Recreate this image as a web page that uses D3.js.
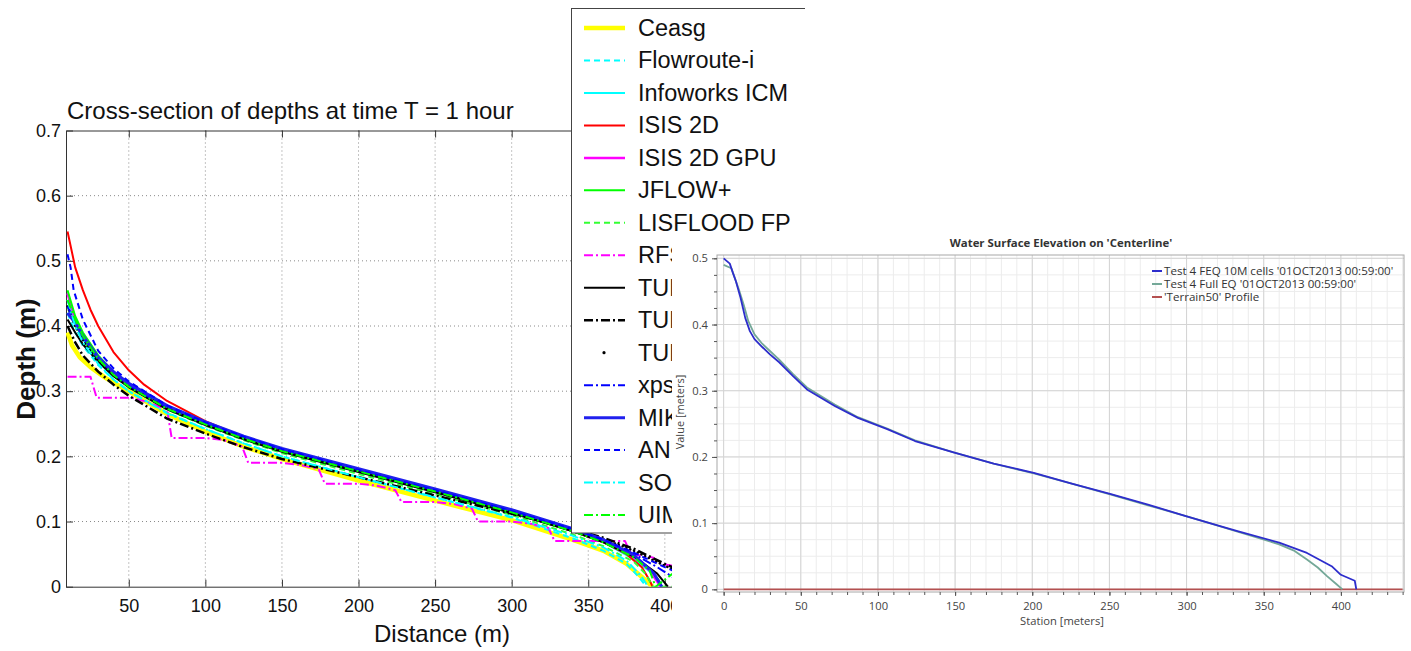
<!DOCTYPE html>
<html><head><meta charset="utf-8">
<script src="https://cdn.jsdelivr.net/npm/d3@7"></script>
<style>body{margin:0;background:#fff}svg{display:block}</style>
</head><body>
<svg id="c" width="1411" height="651"></svg>
<script>
// ---------- LEFT CHART DATA ----------
const leftTitle = "Cross-section of depths at time T = 1 hour";
const leftXTicks = [50,100,150,200,250,300,350,400,450];
const leftYTicks = [0,0.1,0.2,0.3,0.4,0.5,0.6,0.7];
const modelNames = ["Ceasg","Flowroute-i","Infoworks ICM","ISIS 2D","ISIS 2D GPU","JFLOW+","LISFLOOD FP","RFSM EDA","TUFLOW","TUFLOW FV","TUFLOW GPU","xpstorm","MIKE FLOOD","ANUGA","SOBEK","UIM"];

const ceasg = [[10,0.39],[13,0.37],[18,0.352],[25,0.337],[35,0.32],[50,0.3],[75,0.265],[100,0.238],[125,0.215],[150,0.196],[200,0.163],[250,0.132],[300,0.102],[340,0.072],[360,0.055],[375,0.035],[385,0.015],[392,0]];
const flowroute = [[10,0.42],[15,0.39],[20,0.37],[30,0.34],[40,0.318],[50,0.3],[75,0.267],[100,0.242],[125,0.22],[150,0.2],[200,0.168],[250,0.137],[300,0.106],[340,0.074],[360,0.055],[375,0.035],[383,0.015],[388,0]];
const infoworks = [[10,0.44],[15,0.405],[20,0.38],[30,0.348],[40,0.325],[50,0.307],[75,0.273],[100,0.249],[125,0.227],[150,0.208],[200,0.177],[250,0.146],[300,0.114],[340,0.085],[360,0.068],[380,0.042],[392,0.02],[398,0]];
const isis2d = [[10,0.545],[15,0.49],[20,0.455],[25,0.425],[30,0.4],[40,0.36],[50,0.332],[60,0.31],[75,0.285],[100,0.254],[125,0.23],[150,0.21],[200,0.178],[250,0.146],[300,0.114],[340,0.085],[360,0.068],[375,0.05],[385,0.03],[390,0.01],[392,0]];
const isis2dGpu = [[10,0.45],[15,0.41],[20,0.385],[30,0.352],[40,0.328],[50,0.31],[75,0.275],[100,0.25],[125,0.228],[150,0.209],[200,0.177],[250,0.146],[300,0.114],[340,0.086],[360,0.069],[380,0.046],[390,0.025],[395,0.008],[397,0]];
const jflow = [[10,0.455],[15,0.415],[20,0.39],[30,0.355],[40,0.33],[50,0.311],[75,0.276],[100,0.251],[125,0.229],[150,0.21],[200,0.178],[250,0.147],[300,0.115],[340,0.087],[360,0.07],[380,0.047],[390,0.028],[396,0.01],[398,0]];
const lisflood = [[10,0.43],[15,0.4],[20,0.378],[30,0.347],[40,0.324],[50,0.306],[75,0.272],[100,0.247],[125,0.225],[150,0.205],[200,0.173],[250,0.142],[300,0.11],[340,0.08],[360,0.062],[380,0.038],[388,0.018],[392,0],[410,0]];
const rfsm = [[10,0.322],[25,0.322],[29,0.29],[52,0.29],[60,0.285],[75,0.272],[78,0.228],[100,0.228],[112,0.225],[124,0.215],[128,0.19],[150,0.19],[162,0.187],[174,0.18],[178,0.158],[200,0.158],[212,0.155],[224,0.148],[228,0.13],[250,0.13],[262,0.127],[274,0.12],[278,0.1],[300,0.1],[312,0.097],[324,0.09],[328,0.07],[350,0.07],[374,0.07],[378,0.05],[392,0.045],[398,0.035],[410,0.03]];
const tuflow = [[10,0.41],[15,0.39],[20,0.372],[30,0.345],[40,0.323],[50,0.306],[75,0.272],[100,0.248],[125,0.226],[150,0.207],[200,0.176],[250,0.145],[300,0.113],[340,0.085],[360,0.068],[380,0.046],[395,0.02],[402,0]];
const tuflowFv = [[10,0.4],[15,0.375],[20,0.355],[30,0.33],[40,0.31],[50,0.293],[75,0.258],[100,0.235],[125,0.214],[150,0.196],[200,0.168],[250,0.14],[300,0.112],[340,0.088],[360,0.075],[380,0.058],[400,0.035],[410,0.025]];
const tuflowGpu = [[10,0.43],[15,0.4],[20,0.378],[30,0.347],[40,0.325],[50,0.308],[75,0.274],[100,0.25],[125,0.228],[150,0.209],[200,0.178],[250,0.147],[300,0.116],[340,0.088],[360,0.073],[380,0.055],[400,0.032],[410,0.022]];
const xpstorm = [[10,0.43],[15,0.405],[20,0.383],[30,0.35],[40,0.327],[50,0.309],[75,0.275],[100,0.251],[125,0.23],[150,0.211],[200,0.18],[250,0.149],[300,0.117],[340,0.088],[360,0.072],[380,0.05],[395,0.03],[405,0.015],[410,0.005]];
const mikeFlood = [[10,0.42],[15,0.405],[20,0.385],[30,0.352],[40,0.33],[50,0.312],[75,0.278],[100,0.253],[125,0.231],[150,0.212],[200,0.181],[250,0.15],[300,0.118],[340,0.089],[360,0.072],[380,0.048],[393,0.02],[398,0]];
const anuga = [[10,0.51],[12,0.49],[14,0.455],[16,0.44],[20,0.41],[30,0.362],[40,0.335],[50,0.315],[75,0.278],[100,0.252],[125,0.23],[150,0.211],[200,0.179],[250,0.148],[300,0.116],[340,0.088],[360,0.072],[380,0.052],[400,0.03],[410,0.02]];
const sobek = [[10,0.44],[15,0.4],[20,0.375],[30,0.342],[40,0.318],[50,0.3],[75,0.266],[100,0.242],[125,0.22],[150,0.2],[200,0.168],[250,0.137],[300,0.107],[340,0.078],[360,0.06],[375,0.04],[385,0.015],[389,0]];
const uim = [[10,0.44],[15,0.41],[20,0.385],[30,0.35],[40,0.325],[50,0.307],[75,0.273],[100,0.249],[125,0.227],[150,0.208],[200,0.177],[250,0.146],[300,0.114],[340,0.085],[360,0.068],[380,0.045],[390,0.025],[394,0],[405,0.02],[410,0.025]];
const modelSeries = [ceasg,flowroute,infoworks,isis2d,isis2dGpu,jflow,lisflood,rfsm,tuflow,tuflowFv,tuflowGpu,xpstorm,mikeFlood,anuga,sobek,uim];

// styles (kept apart from the data)
const modelColors = ["#ffff00","#00ffff","#00ffff","#ff0000","#ff00ff","#00ff00","#33ff33","#ff00ff","#000000","#000000","#000000","#0000ff","#2020ee","#0000ff","#00ffff","#00ff00"];
const modelDash = [null,"6,4",null,null,null,null,"6,4","9,3,2,3",null,"9,3,2,3","0.1,4","9,3,2,3",null,"6,4","9,3,2,3","9,3,2,3"];
const modelWidth = [4.5,2,2,2,2.5,2,2,2,2,2.5,2.5,2,3,2,2,2];

// ---------- RIGHT CHART DATA ----------
const rightTitle = "Water Surface Elevation on 'Centerline'";
const rightXTicks = [0,50,100,150,200,250,300,350,400];
const rightYTicks = [0,0.1,0.2,0.3,0.4,0.5];
const rightNames = ["Test 4 FEQ 10M cells '01OCT2013 00:59:00'","Test 4 Full EQ '01OCT2013 00:59:00'","'Terrain50' Profile"];
const feq10m = [[0,0.5],[4,0.492],[6,0.478],[8,0.465],[11,0.44],[14,0.41],[17,0.39],[20,0.378],[25,0.366],[30,0.355],[36,0.343],[45,0.322],[54,0.302],[72,0.277],[87,0.259],[106,0.242],[124,0.224],[149,0.207],[175,0.19],[201,0.176],[225,0.16],[251,0.144],[275,0.128],[299,0.111],[315,0.1],[333,0.088],[360,0.0705],[378,0.055],[394,0.035],[400,0.022],[409,0.013],[410,0]];
const fullEq = [[0,0.49],[5,0.485],[7,0.472],[10,0.452],[13,0.43],[16,0.405],[20,0.385],[25,0.371],[30,0.36],[36,0.347],[45,0.325],[54,0.305],[72,0.279],[87,0.26],[106,0.243],[124,0.225],[149,0.207],[175,0.19],[201,0.175],[225,0.16],[251,0.143],[275,0.127],[299,0.111],[315,0.1],[333,0.087],[360,0.068],[370,0.058],[378,0.045],[385,0.033],[391,0.02],[397,0.008],[401,0]];
const terrain = [[0,0],[440,0]];
const rightSeries = [feq10m, fullEq, terrain];
const rightColors = ["#2d2dcc","#74a898","#b45050"];

// ---------- DRAW ----------
const svg = d3.select("#c");
const defs = svg.append("defs");
defs.append("clipPath").attr("id","figL").append("rect").attr("x",0).attr("y",0).attr("width",805).attr("height",651);
defs.append("clipPath").attr("id","plotL").append("rect").attr("x",66).attr("y",130.5).attr("width",739).attr("height",456.2);

const FL = "'Liberation Sans', Arial, sans-serif";
const xL = d3.scaleLinear().domain([9,500]).range([66,818]);
const yL = d3.scaleLinear().domain([0,0.7]).range([586.7,130.5]);
const L = svg.append("g").attr("clip-path","url(#figL)");
const PANEL_X = 672, PANEL_Y = 236;

// grid
L.append("g").selectAll("line").data(leftXTicks).join("line")
  .attr("x1",d=>xL(d)).attr("x2",d=>xL(d)).attr("y1",yL(0.7)).attr("y2",yL(0))
  .attr("stroke","#8a8a8a").attr("stroke-width",1).attr("stroke-dasharray","1,3");
L.append("g").selectAll("line").data(leftYTicks.filter(d=>d>0&&d<0.7)).join("line")
  .attr("x1",xL(9)).attr("x2",xL(500)).attr("y1",d=>yL(d)).attr("y2",d=>yL(d))
  .attr("stroke","#8a8a8a").attr("stroke-width",1).attr("stroke-dasharray","1,3");

function styleAxis(g, fs){
  g.selectAll("path,line").attr("stroke","#333");
  g.selectAll("text").attr("fill","#111").attr("font-family",FL).attr("font-size",fs);
}
const xAx = L.append("g").attr("transform",`translate(0,${yL(0)})`)
  .call(d3.axisBottom(xL).tickValues(leftXTicks).tickSize(-7).tickSizeOuter(0).tickPadding(12.5).tickFormat(d3.format("d")))
  .call(g=>styleAxis(g,18));
// tick labels hidden under the right panel are not shown; the partly visible "400" is kept
xAx.selectAll(".tick").filter(d=>xL(d)-12>PANEL_X).select("text").remove();
L.append("g").attr("transform",`translate(0,${yL(0.7)})`)
  .call(d3.axisTop(xL).tickValues(leftXTicks).tickSize(-7).tickSizeOuter(0).tickFormat(""))
  .call(g=>styleAxis(g,18));
L.append("g").attr("transform",`translate(${xL(9)},0)`)
  .call(d3.axisLeft(yL).tickValues(leftYTicks).tickSize(-7).tickSizeOuter(0).tickPadding(5).tickFormat(d=>d===0?"0":d3.format(".1f")(d)))
  .call(g=>styleAxis(g,18));

const lineL = d3.line().x(d=>xL(d[0])).y(d=>yL(d[1]));
const PL = L.append("g").attr("clip-path","url(#plotL)");
modelSeries.forEach((s,i)=>{
  PL.append("path").datum(s).attr("d",lineL).attr("fill","none")
    .attr("stroke",modelColors[i]).attr("stroke-width",modelWidth[i])
    .attr("stroke-dasharray",modelDash[i]).attr("stroke-linecap",modelDash[i]==="0.1,4"?"round":"butt")
    .attr("stroke-linejoin","round");
});

L.append("text").attr("x",67).attr("y",119).attr("font-family",FL).attr("font-size",24).attr("fill","#111").text(leftTitle);
L.append("text").attr("x",442).attr("y",642).attr("text-anchor","middle").attr("font-family",FL).attr("font-size",24).attr("fill","#111").text("Distance (m)");
L.append("text").attr("transform","translate(35,359) rotate(-90)").attr("text-anchor","middle").attr("font-family",FL).attr("font-size",26).attr("font-weight","bold").attr("fill","#111").text("Depth (m)");

// legend
const lg = L.append("g");
lg.append("rect").attr("x",571.5).attr("y",8.5).attr("width",260).attr("height",524.5).attr("fill","#fff").attr("stroke","#444").attr("stroke-width",1);
modelNames.forEach((n,i)=>{
  const y = 28 + i*32.47;
  if (modelDash[i]==="0.1,4") {
    lg.append("circle").attr("cx",604).attr("cy",y).attr("r",1.6).attr("fill","#000");
  } else {
    lg.append("line").attr("x1",584).attr("x2",625).attr("y1",y).attr("y2",y)
      .attr("stroke",modelColors[i]).attr("stroke-width",modelWidth[i]).attr("stroke-dasharray",modelDash[i]);
  }
  const t = lg.append("text").attr("x",638).attr("y",y+8).attr("font-family",FL).attr("font-size",23.5).attr("fill","#111").text(n);
  // rows lying behind the right panel show only the glyphs that start left of it
  if (y > PANEL_Y) {
    const node = t.node();
    let k = 0;
    while (k < n.length && node.getStartPositionOfChar(k).x < PANEL_X) k++;
    t.text(n.slice(0,k));
  }
});

// ---------- RIGHT PANEL ----------
const FR = "'Open Sans', 'Noto Sans', sans-serif";
const R = svg.append("g");
R.append("rect").attr("x",PANEL_X).attr("y",PANEL_Y).attr("width",1411-PANEL_X).attr("height",651-PANEL_Y).attr("fill","#fff");
const xR = d3.scaleLinear().domain([-4.3,440.9]).range([717,1404]);
const yR = d3.scaleLinear().domain([-0.004,0.505]).range([592,255]);
R.append("g").selectAll("line").data(d3.range(0,441,10)).join("line")
  .attr("x1",d=>xR(d)).attr("x2",d=>xR(d)).attr("y1",255).attr("y2",592).attr("stroke","#ececec");
R.append("g").selectAll("line").data(d3.range(0,0.501,0.025)).join("line")
  .attr("x1",717).attr("x2",1404).attr("y1",d=>yR(d)).attr("y2",d=>yR(d)).attr("stroke","#ececec");
R.append("g").selectAll("line").data(rightXTicks).join("line")
  .attr("x1",d=>xR(d)).attr("x2",d=>xR(d)).attr("y1",255).attr("y2",592).attr("stroke","#d4d4d4");
R.append("g").selectAll("line").data(rightYTicks).join("line")
  .attr("x1",717).attr("x2",1404).attr("y1",d=>yR(d)).attr("y2",d=>yR(d)).attr("stroke","#d4d4d4");
R.append("rect").attr("x",717).attr("y",255).attr("width",687).attr("height",337).attr("fill","none").attr("stroke","#a8a8a8");

function styleR(g){
  g.select(".domain").remove();
  g.selectAll("line").attr("stroke","#555");
  g.selectAll("text").attr("fill","#444").attr("font-family",FR).attr("font-size",11.2);
}
R.append("g").attr("transform","translate(0,592)")
  .call(d3.axisBottom(xR).tickValues(d3.range(0,441,10)).tickSize(3).tickFormat(""))
  .call(styleR);
R.append("g").attr("transform","translate(0,592)")
  .call(d3.axisBottom(xR).tickValues(rightXTicks).tickSize(4).tickPadding(6).tickFormat(d3.format("d")))
  .call(styleR);
R.append("g").attr("transform","translate(717,0)")
  .call(d3.axisLeft(yR).tickValues(d3.range(0,0.501,0.025)).tickSize(3).tickFormat(""))
  .call(styleR);
R.append("g").attr("transform","translate(717,0)")
  .call(d3.axisLeft(yR).tickValues(rightYTicks).tickSize(5).tickPadding(4).tickFormat(d=>d===0?"0":d3.format(".1f")(d)))
  .call(styleR);

const lineR = d3.line().x(d=>xR(d[0])).y(d=>yR(d[1]));
[2,1,0].forEach(i=>{
  R.append("path").datum(rightSeries[i]).attr("d",lineR).attr("fill","none")
    .attr("stroke",rightColors[i]).attr("stroke-width",i===2?1.6:1.8).attr("stroke-linejoin","round");
});

R.append("text").attr("x",1061).attr("y",247).attr("text-anchor","middle").attr("font-family",FR).attr("font-size",11.4).attr("font-weight","bold").attr("fill","#333").text(rightTitle);
R.append("text").attr("x",1062).attr("y",625).attr("text-anchor","middle").attr("font-family",FR).attr("font-size",11.2).attr("fill","#444").text("Station [meters]");
R.append("text").attr("transform","translate(684,412) rotate(-90)").attr("text-anchor","middle").attr("font-family",FR).attr("font-size",11).attr("fill","#444").text("Value [meters]");

rightNames.forEach((n,i)=>{
  const y = 271 + i*13;
  R.append("line").attr("x1",1152).attr("x2",1162).attr("y1",y).attr("y2",y).attr("stroke",rightColors[i]).attr("stroke-width",2);
  R.append("text").attr("x",1164).attr("y",y+4).attr("font-family",FR).attr("font-size",11.6).attr("fill","#333").text(n);
});
</script>
</body></html>
